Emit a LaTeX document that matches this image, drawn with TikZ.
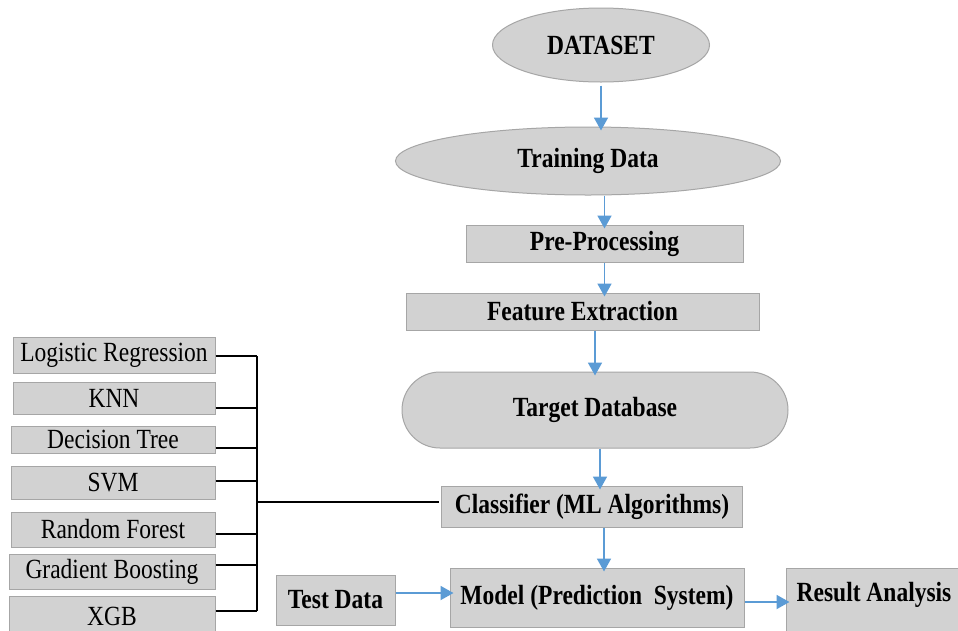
\documentclass[tikz,border=0pt]{standalone}
\usepackage{fontspec}
\usepackage{graphicx}
\setmainfont{Liberation Serif}
\usetikzlibrary{shapes.geometric,arrows.meta}
\definecolor{boxfill}{HTML}{D2D2D2}
\definecolor{boxline}{HTML}{A6A6A6}
\definecolor{arrblue}{HTML}{5B9BD5}
\newcommand{\vstr}[1]{\scalebox{1}[1.18]{#1}}
\tikzset{
  base/.style={fill=boxfill, draw=boxline, line width=1pt, inner sep=0pt, text=black,
    font=\fontsize{23.5}{26}\selectfont},
  ell/.style={base, ellipse, font=\fontsize{23.5}{26}\selectfont\bfseries},
  rbox/.style={base, rectangle, font=\fontsize{23.5}{26}\selectfont\bfseries},
  lbox/.style={base, rectangle},
  stadium/.style={base, rectangle, rounded corners=38pt, font=\fontsize{23.5}{26}\selectfont\bfseries},
  arr/.style={draw=arrblue, line width=1.8pt, -{Triangle[width=14pt,length=13pt]}, shorten >=-4pt},
  wire/.style={draw=black, line width=1.5pt}
}
\begin{document}
\begin{tikzpicture}[x=1pt,y=-1pt]
\path[use as bounding box, clip] (0,0) rectangle (958,630);
\fill[white] (0,0) rectangle (958,630);

% main column
\node[ell, minimum width=217pt, minimum height=74pt] (ds) at (601,45) {\vstr{DATASET}};
\node[ell, minimum width=385pt, minimum height=68pt] (tr) at (588,161) {\vstr{Training Data}};
\node[rbox, minimum width=277pt, minimum height=37pt] (pp) at (604.5,243.5) {\vstr{Pre-Processing}};
\node[rbox, minimum width=353pt, minimum height=37pt] (fe) at (582.5,311.5) {\vstr{Feature Extraction}};
\node[stadium, minimum width=386pt, minimum height=76pt] (tdb) at (595,410) {\vstr{Target Database}};
\node[rbox, minimum width=301pt, minimum height=41pt] (cl) at (592,506.5) {\vstr{Classifier (ML Algorithms)}};
\node[rbox, minimum width=294pt, minimum height=59pt] (md) at (597,597.5) {\raisebox{4pt}{\vstr{Model (Prediction\ \ System)}}};
\node[rbox, minimum width=119pt, minimum height=50pt] (td) at (335.5,600) {\vstr{Test Data}};
\node[rbox, minimum width=176pt, minimum height=66pt] (rs) at (874,601) {\raisebox{18pt}{\vstr{Result Analysis}}};

% algorithm list
\node[lbox, minimum width=202pt, minimum height=36pt] (lr) at (114,355) {\vstr{Logistic Regression}};
\node[lbox, minimum width=202pt, minimum height=32pt] (knn) at (114,398) {\vstr{KNN}};
\node[lbox, minimum width=204pt, minimum height=27pt] (dt) at (113,439.5) {\vstr{Decision Tree}};
\node[lbox, minimum width=204pt, minimum height=33pt] (svm) at (113,482.5) {\vstr{SVM}};
\node[lbox, minimum width=204pt, minimum height=35pt] (rf) at (113,529.5) {\vstr{Random Forest}};
\node[lbox, minimum width=206pt, minimum height=35pt] (gb) at (112,571.5) {\vstr{Gradient Boosting}};
\node[lbox, minimum width=206pt, minimum height=44pt] (xgb) at (112,618) {\raisebox{4pt}{\vstr{XGB}}};

% blue arrows
\draw[arr] ([yshift=-3pt]ds.south) -- (ds.south |- tr.north);
\draw[arr] (pp.north |- tr.south) -- (pp.north);
\draw[arr] (pp.south) -- (pp.south |- fe.north);
\draw[arr] (tdb.north |- fe.south) -- (tdb.north);
\draw[arr] ([xshift=5pt]tdb.south) -- ([xshift=5pt]tdb.south |- cl.north);
\draw[arr] ([xshift=12pt]cl.south) -- ([xshift=12pt]cl.south |- md.north);
\coordinate (t1) at ([yshift=7pt]td.east);
\draw[arr] (t1) -- (t1 -| md.west);
\coordinate (m1) at ([yshift=-4.5pt]md.east);
\draw[arr] (m1) -- (m1 -| rs.west);

% bus wiring
\coordinate (bus) at (257,0);
\coordinate (w1) at ([yshift=-1pt]lr.east);
\coordinate (w2) at ([yshift=-10pt]knn.east);
\coordinate (w3) at ([yshift=-8.5pt]dt.east);
\coordinate (w4) at ([yshift=1.5pt]svm.east);
\coordinate (w5) at ([yshift=-4.5pt]rf.east);
\coordinate (w6) at ([yshift=6.5pt]gb.east);
\coordinate (w7) at ([yshift=7pt]xgb.east);
\coordinate (wc) at ([yshift=4.5pt]cl.west);
\foreach \w in {w1,w2,w3,w4,w5,w6,w7} {
  \draw[wire] (\w) -- (\w -| bus);
}
\draw[wire] (bus |- w1) -- (bus |- w7);
\draw[wire] (bus |- wc) -- ([xshift=-2pt]wc);
\end{tikzpicture}
\end{document}
